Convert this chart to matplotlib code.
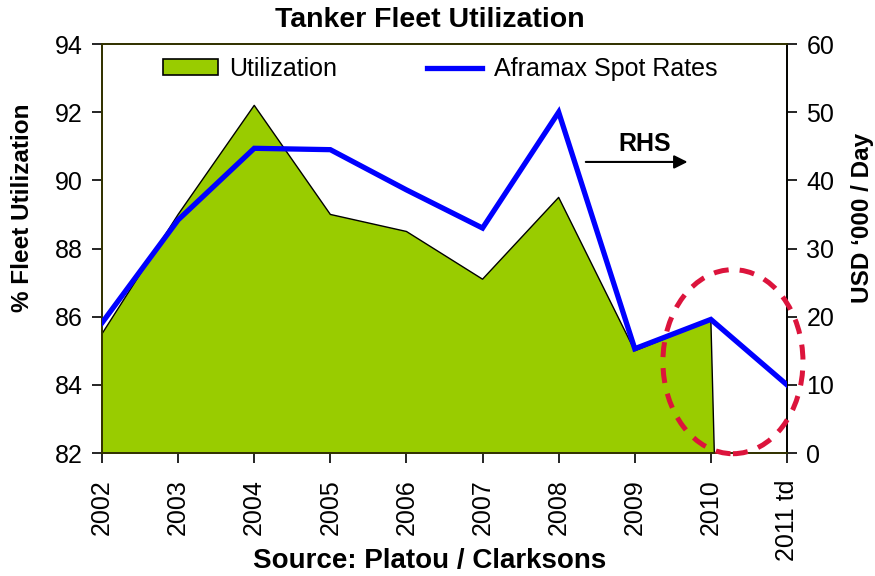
import matplotlib.pyplot as plt
import numpy as np
from matplotlib.patches import Ellipse, Patch
from matplotlib.lines import Line2D

plt.rcParams['font.family'] = ['Liberation Sans', 'DejaVu Sans']

years = ['2002', '2003', '2004', '2005', '2006', '2007', '2008', '2009', '2010', '2011 td']
utilization = [85.5, 89.0, 92.2, 89.0, 88.5, 87.1, 89.5, 85.0, 85.9, 0.0]
spot_rates = [19.1, 34.2, 44.7, 44.5, 38.6, 33.0, 50.0, 15.3, 19.6, 10.0]

green = '#99CC00'
blue = '#0000FF'
axis_col = '#333300'

fig = plt.figure(figsize=(8.75, 5.76), dpi=100)
ax = fig.add_axes([0.1166, 0.2135, 0.7828, 0.7101])
ax2 = ax.twinx()

x = np.arange(len(years))
ax.fill_between(x, utilization, 0, color=green, linewidth=0, zorder=1)
ax.plot(x, utilization, color='black', linewidth=1, zorder=2)
ax.set_xlim(0, len(years) - 1)
ax.set_ylim(82, 94)
ax.set_yticks(np.arange(82, 95, 2))

ax2.plot(x, spot_rates, color=blue, linewidth=3.8, solid_joinstyle='miter', zorder=3)
ax2.set_ylim(0, 60)
ax2.set_yticks(np.arange(0, 61, 10))

ax.set_xticks(x)
ax.set_xticklabels(years, rotation=90)

for a in (ax, ax2):
    a.tick_params(labelsize=18, length=7, width=1.2, direction='out', colors='black', pad=7)
    for s in a.spines.values():
        s.set_color(axis_col)
        s.set_linewidth(1.3)
ax.tick_params(axis='x', pad=12)
ax2.spines['right'].set_color('black')

fig.text(0.026, 0.639, '% Fleet Utilization', fontsize=17.5, fontweight='bold',
         rotation=90, ha='center', va='center')
fig.text(0.986, 0.622, "USD \u2018000 / Day", fontsize=17.5, fontweight='bold',
         rotation=90, ha='center', va='center')
fig.text(0.491, 0.026, 'Source: Platou / Clarksons', fontsize=20, fontweight='bold',
         ha='center', va='center')
fig.text(0.491, 0.965, 'Tanker Fleet Utilization', fontsize=20.5, fontweight='bold',
         ha='center', va='center')

handles = [Patch(facecolor=green, edgecolor='black', linewidth=1.2),
           Line2D([0], [0], color=blue, linewidth=3.8)]
ax.legend(handles, ['Utilization', 'Aframax Spot Rates'], ncol=2, frameon=False,
          loc='center', bbox_to_anchor=(0.503, 0.880), bbox_transform=fig.transFigure,
          fontsize=18, handlelength=2.2, handleheight=0.6, columnspacing=3.6,
          handletextpad=0.45)

# RHS annotation
ax2.annotate('', xy=(7.73, 42.7), xytext=(6.32, 42.7),
             arrowprops=dict(arrowstyle='-|>', color='black', lw=1.5, mutation_scale=20))
ax2.text(7.13, 45.3, 'RHS', fontsize=18, fontweight='bold', ha='center', va='center')

ell = Ellipse((8.29, 13.4), 1.84, 27.0, transform=ax2.transData, fill=False,
              edgecolor='#DC143C', linewidth=3.6, linestyle=(0, (3, 2.2)), clip_on=False, zorder=5)
ax2.add_patch(ell)

fig.savefig('out.png', dpi=100)
